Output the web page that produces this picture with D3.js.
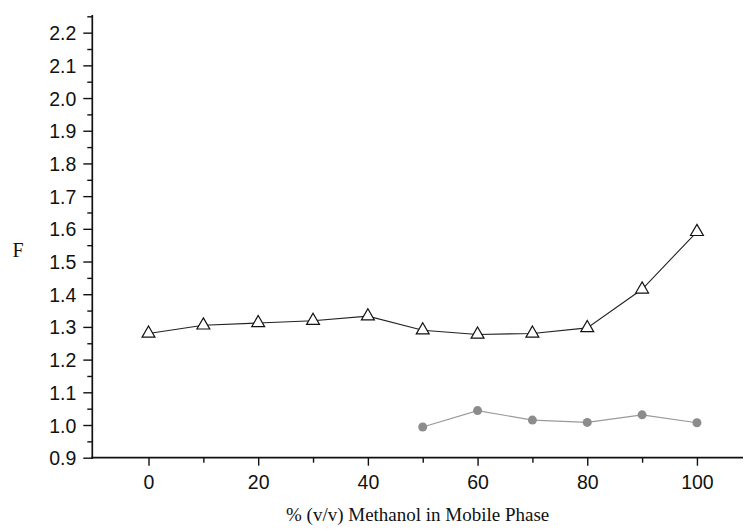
<!DOCTYPE html>
<html>
  <head>
    <title>F vs methanol</title>
    <style>
    body {
        margin: 0px;
        overflow: hidden;
        background: white;
    }

    .tick text {
        font-family: "Liberation Sans", Arial, sans-serif;
        font-size: 19.5px;
        fill: #111;
    }

    .axis-label {
        font-family: "Liberation Serif", "Times New Roman", serif;
        fill: #111;
    }
    </style>
    <script src="https://d3js.org/d3.v7.min.js"></script>
  </head>
  <body>

    <svg width="744" height="531"></svg>

    <script>
        // data
        const methanol = [0, 10, 20, 30, 40, 50, 60, 70, 80, 90, 100];
        const fTriangle = [1.28, 1.305, 1.312, 1.319, 1.333, 1.29, 1.277, 1.28, 1.297, 1.415, 1.591];

        const methanolLow = [50, 60, 70, 80, 90, 100];
        const fCircle = [0.994, 1.044, 1.015, 1.008, 1.031, 1.007];

        const xTicks = [0, 20, 40, 60, 80, 100];
        const xMinor = [10, 30, 50, 70, 90];
        const yTicks = [0.9, 1.0, 1.1, 1.2, 1.3, 1.4, 1.5, 1.6, 1.7, 1.8, 1.9, 2.0, 2.1, 2.2];
        const yMinor = [0.95, 1.05, 1.15, 1.25, 1.35, 1.45, 1.55, 1.65, 1.75, 1.85, 1.95, 2.05, 2.15, 2.25];

        const svg = d3.select('svg');

        const xScale = d3.scaleLinear()
            .domain([-10.25, 108.4])
            .range([92.3, 743]);

        const yScale = d3.scaleLinear()
            .domain([0.9, 2.254])
            .range([457.7, 15]);

        const x0 = xScale.range()[0];
        const y0 = yScale.range()[0];

        // y axis
        const yAxisG = svg.append('g')
            .attr('transform', `translate(${x0},0)`)
            .call(d3.axisLeft(yScale).tickValues(yTicks).tickSize(9).tickPadding(7)
                .tickFormat(d3.format('.1f')));
        yAxisG.select('.domain').remove();
        yAxisG.selectAll('.tick line').attr('stroke', '#111').attr('stroke-width', 1.4);
        yAxisG.selectAll('.tick text').attr('dy', '0.36em');

        const yMinorG = svg.append('g')
            .attr('transform', `translate(${x0},0)`)
            .call(d3.axisLeft(yScale).tickValues(yMinor).tickSize(5).tickFormat(''));
        yMinorG.select('.domain').remove();
        yMinorG.selectAll('.tick line').attr('stroke', '#111').attr('stroke-width', 1.4);

        // x axis
        const xAxisG = svg.append('g')
            .attr('transform', `translate(0,${y0})`)
            .call(d3.axisBottom(xScale).tickValues(xTicks).tickSize(8).tickPadding(9));
        xAxisG.select('.domain').remove();
        xAxisG.selectAll('.tick line').attr('stroke', '#111').attr('stroke-width', 1.4);

        const xMinorG = svg.append('g')
            .attr('transform', `translate(0,${y0})`)
            .call(d3.axisBottom(xScale).tickValues(xMinor).tickSize(5).tickFormat(''));
        xMinorG.select('.domain').remove();
        xMinorG.selectAll('.tick line').attr('stroke', '#111').attr('stroke-width', 1.4);

        // axis lines
        svg.append('line')
            .attr('x1', x0).attr('x2', x0)
            .attr('y1', yScale.range()[1]).attr('y2', y0 + 1)
            .attr('stroke', '#111').attr('stroke-width', 1.7);
        svg.append('line')
            .attr('x1', x0 - 1).attr('x2', xScale.range()[1])
            .attr('y1', y0).attr('y2', y0)
            .attr('stroke', '#111').attr('stroke-width', 1.7);

        // axis labels
        svg.append('text')
            .attr('class', 'axis-label')
            .attr('x', 18)
            .attr('y', 257)
            .attr('text-anchor', 'middle')
            .attr('font-size', '20px')
            .text('F');

        svg.append('text')
            .attr('class', 'axis-label')
            .attr('x', (x0 + xScale.range()[1]) / 2)
            .attr('y', 521)
            .attr('text-anchor', 'middle')
            .attr('font-size', '19px')
            .text('% (v/v) Methanol in Mobile Phase');

        // series
        const triData = methanol.map((m, i) => ({ x: m, y: fTriangle[i] }));
        const circData = methanolLow.map((m, i) => ({ x: m, y: fCircle[i] }));

        const line = d3.line()
            .x(d => xScale(d.x))
            .y(d => yScale(d.y));

        svg.append('path')
            .datum(circData)
            .attr('d', line)
            .attr('fill', 'none')
            .attr('stroke', '#9a9a9a')
            .attr('stroke-width', 1.1);

        svg.selectAll('circle.low').data(circData)
            .enter().append('circle')
            .attr('class', 'low')
            .attr('cx', d => xScale(d.x))
            .attr('cy', d => yScale(d.y))
            .attr('r', 4.5)
            .attr('fill', '#8c8c8c');

        svg.append('path')
            .datum(triData)
            .attr('d', line)
            .attr('fill', 'none')
            .attr('stroke', '#222')
            .attr('stroke-width', 1.1);

        const tri = d3.symbol().type(d3.symbolTriangle).size(72);
        svg.selectAll('path.tri').data(triData)
            .enter().append('path')
            .attr('class', 'tri')
            .attr('d', tri)
            .attr('transform', d => `translate(${xScale(d.x)},${yScale(d.y)})`)
            .attr('fill', 'white')
            .attr('stroke', '#111')
            .attr('stroke-width', 1.2);
    </script>
  </body>
</html>
